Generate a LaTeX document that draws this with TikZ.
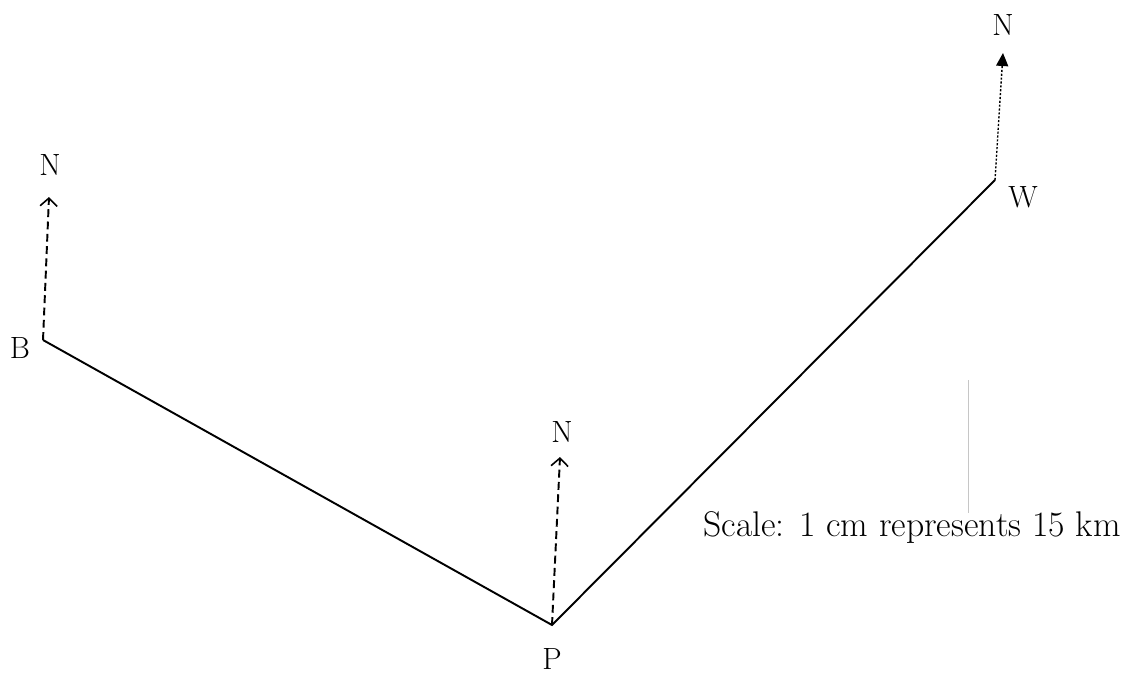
\documentclass[tikz,border=0pt]{standalone}
\usetikzlibrary{arrows.meta}

\begin{document}
\begin{tikzpicture}[
  x=0.02cm, y=-0.02cm,
  lbl/.style={inner sep=0pt, font=\fontsize{17.5}{20}\selectfont},
  note/.style={inner sep=0pt, font=\fontsize{20.3}{23}\selectfont},
  route/.style={line width=1.1pt},
  northarr/.style={-{Straight Barb[length=1.6mm, width=3.4mm, line width=0.9pt]}, line width=1.1pt, dash pattern=on 4.5pt off 2.5pt},
  northdot/.style={-{Triangle[length=2.6mm, width=2.4mm]}, line width=0.8pt, dash pattern=on 1.2pt off 1pt},
  faint/.style={gray!45, line width=0.4pt}
]

\useasboundingbox (0,0) rectangle (1127,673);

\coordinate (b) at (43,340);
\coordinate (p) at (552,625);
\coordinate (w) at (995,180);

\coordinate (tb) at (49,197);
\coordinate (tp) at (560,457);
\coordinate (tw) at (1003,53);

\node[lbl] (lb) at (20,348) {B};
\node[lbl] (lp) at (552,659) {P};
\node[lbl] (lw) at (1023,197) {W};

\node[lbl] (nb) at (50,165) {N};
\node[lbl] (np) at (562,432) {N};
\node[lbl] (nw) at (1003,25) {N};

\node[note, anchor=base west] (scale) at (703,536) {Scale: 1 cm represents 15 km};

\draw[route] (b) -- (p) -- (w);

\draw[northarr] (b) -- (tb);
\draw[northarr] (p) -- (tp);
\draw[northdot] (w) -- (tw);

\coordinate (f1) at (968,380);
\coordinate (f2) at (968,513);
\draw[faint] (f1) -- (f2);

\end{tikzpicture}
\end{document}
